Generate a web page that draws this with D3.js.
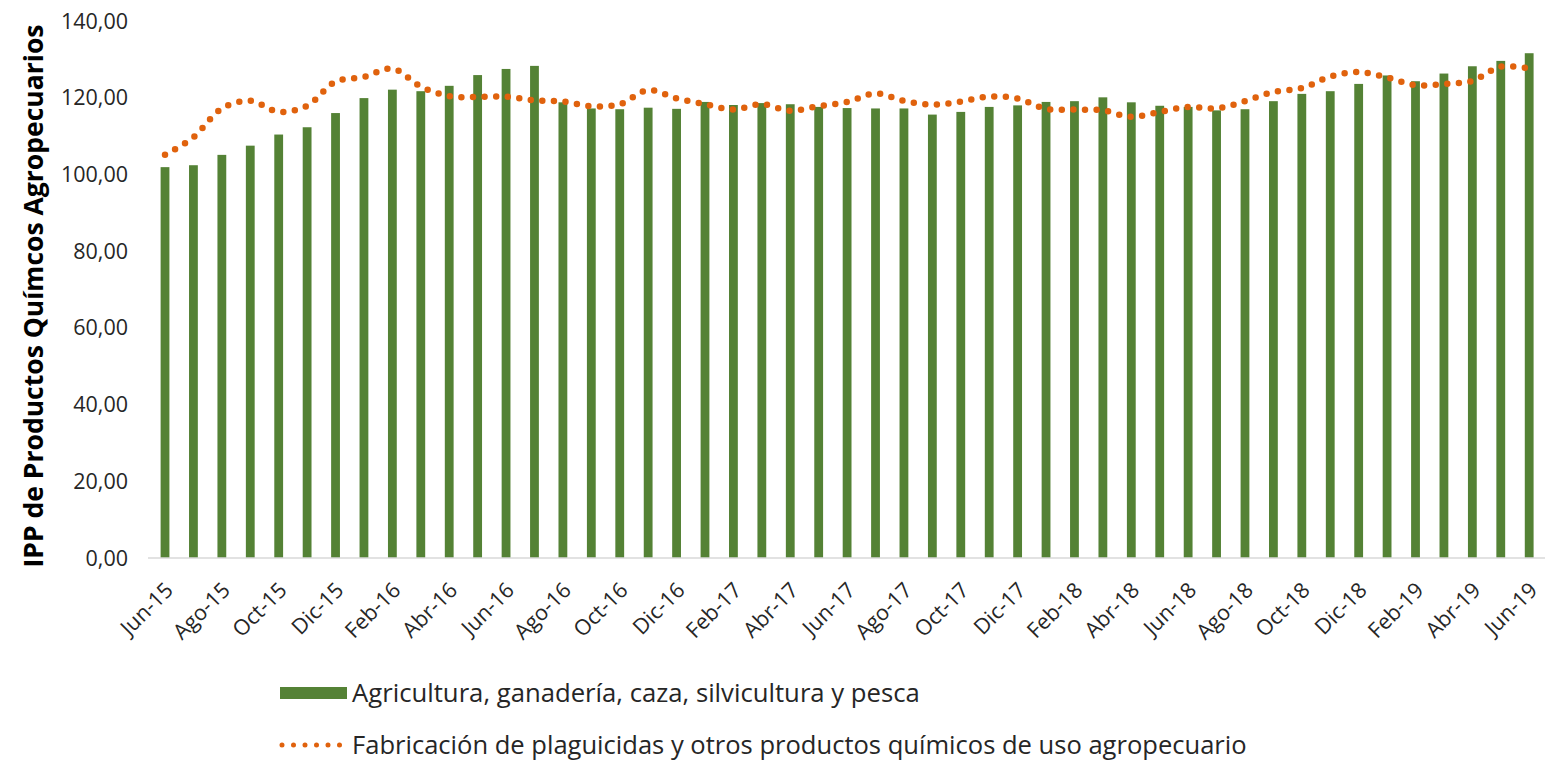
<!DOCTYPE html>
<html lang="es">
<head>
<meta charset="UTF-8">
<title>IPP de Productos Químicos Agropecuarios</title>
<script src="https://d3js.org/d3.v7.min.js"></script>
<style>
  body { margin: 0; background: #fff; }
  svg { display: block; font-family: "Century Gothic", "Open Sans", sans-serif; }
</style>
</head>
<body>
<div id="chart"></div>
<script>
// months, Jun-15 .. Jun-19
var months = ["Jun-15","Jul-15","Ago-15","Sep-15","Oct-15","Nov-15","Dic-15","Ene-16","Feb-16","Mar-16","Abr-16","May-16",
  "Jun-16","Jul-16","Ago-16","Sep-16","Oct-16","Nov-16","Dic-16","Ene-17","Feb-17","Mar-17","Abr-17","May-17",
  "Jun-17","Jul-17","Ago-17","Sep-17","Oct-17","Nov-17","Dic-17","Ene-18","Feb-18","Mar-18","Abr-18","May-18",
  "Jun-18","Jul-18","Ago-18","Sep-18","Oct-18","Nov-18","Dic-18","Ene-19","Feb-19","Mar-19","Abr-19","May-19","Jun-19"];

// Agricultura, ganadería, caza, silvicultura y pesca (bars)
var agricultura = [101.9,102.4,105.1,107.5,110.4,112.3,116.0,119.9,122.1,121.7,123.1,125.9,
  127.5,128.3,118.8,117.2,117.0,117.4,117.1,118.9,118.1,118.6,118.3,117.6,
  117.3,117.2,117.2,115.6,116.3,117.6,118.0,118.9,119.1,120.1,118.8,117.9,
  117.6,116.7,117.0,119.1,121.0,121.7,123.6,125.8,124.3,126.3,128.2,129.6,131.6];

// Fabricación de plaguicidas... (dotted line)
var plaguicidas = [105.1,109.7,117.2,119.2,116.3,117.9,124.2,125.4,127.6,122.9,120.4,120.2,
  120.3,119.3,119.0,117.8,118.3,122.0,119.8,118.3,116.9,118.3,116.6,117.8,
  118.9,121.1,119.2,118.2,119.0,120.3,119.8,117.1,116.9,116.7,115.0,116.3,
  117.6,117.2,119.1,121.5,122.5,125.5,126.7,125.3,123.3,123.6,124.4,128.1,127.6];

var yTicks = [0,20,40,60,80,100,120,140];
var seriesNames = ["Agricultura, ganadería, caza, silvicultura y pesca",
  "Fabricación de plaguicidas y otros productos químicos de uso agropecuario"];

var W = 1552, H = 761;
var green = "#548235", orange = "#E0620D";

var svg = d3.select("#chart").append("svg")
  .attr("width", W).attr("height", H);

var x = d3.scaleBand()
  .domain(months)
  .range([150.8, 1543.4])
  .paddingInner(0.69)
  .paddingOuter(0.345);

var y = d3.scaleLinear()
  .domain([0, 140])
  .range([558, 21]);

var fmt = function(v) { return d3.format(".2f")(v).replace(".", ","); };

// y tick labels (no axis line)
svg.append("g")
  .selectAll("text")
  .data(yTicks)
  .enter().append("text")
    .attr("x", 128)
    .attr("y", function(d) { return y(d); })
    .attr("dy", "0.35em")
    .attr("text-anchor", "end")
    .style("font-size", "21.5px")
    .style("fill", "#262626")
    .text(fmt);

// bars
svg.append("g")
  .selectAll("rect")
  .data(agricultura)
  .enter().append("rect")
    .attr("x", function(d, i) { return x(months[i]); })
    .attr("y", function(d) { return y(d); })
    .attr("width", x.bandwidth())
    .attr("height", function(d) { return y(0) - y(d); })
    .style("fill", green);

// baseline
svg.append("line")
  .attr("x1", 148).attr("x2", 1545)
  .attr("y1", y(0)).attr("y2", y(0))
  .style("stroke", "#d9d9d9")
  .style("stroke-width", 1.3);

// x labels every two months
var xLabels = months.filter(function(d, i) { return i % 2 == 0; });
svg.append("g")
  .selectAll("text")
  .data(xLabels)
  .enter().append("text")
    .attr("transform", function(d) {
      return "translate(" + (x(d) + x.bandwidth() / 2 + 9.5) + ",591.5) rotate(-45)";
    })
    .attr("text-anchor", "end")
    .style("font-size", "21.5px")
    .style("fill", "#262626")
    .text(function(d) { return d; });

// dotted smoothed line
var line = d3.line()
  .x(function(d, i) { return x(months[i]) + x.bandwidth() / 2; })
  .y(function(d) { return y(d); })
  .curve(d3.curveCatmullRom.alpha(0.5));

svg.append("path")
  .datum(plaguicidas)
  .attr("d", line)
  .style("fill", "none")
  .style("stroke", orange)
  .style("stroke-width", 6.5)
  .style("stroke-linecap", "round")
  .style("stroke-dasharray", "0 11.6");

// y axis title
var title = svg.append("text")
  .attr("transform", "translate(43,296) rotate(-90)")
  .attr("text-anchor", "middle")
  .style("font-size", "23px")
  .style("font-weight", "bold")
  .style("fill", "#000")
  .text("IPP de Productos Químcos Agropecuarios");

// shrink/grow font so text spans a target width
function fit(sel, target) {
  var fs = parseFloat(sel.style("font-size"));
  var len = sel.node().getComputedTextLength();
  sel.style("font-size", (fs * target / len).toFixed(2) + "px");
}
fit(title, 543);

// legend
var legend = svg.append("g");
legend.append("rect")
  .attr("x", 280).attr("y", 687)
  .attr("width", 67).attr("height", 12)
  .style("fill", green);
var l1 = legend.append("text")
  .attr("x", 352).attr("y", 693)
  .attr("dy", "0.35em")
  .style("font-size", "20px")
  .style("fill", "#262626")
  .text(seriesNames[0]);
fit(l1, 568);

legend.append("line")
  .attr("x1", 282).attr("x2", 346)
  .attr("y1", 745).attr("y2", 745)
  .style("stroke", orange)
  .style("stroke-width", 5)
  .style("stroke-linecap", "round")
  .style("stroke-dasharray", "0 11.5");
var l2 = legend.append("text")
  .attr("x", 352).attr("y", 745)
  .attr("dy", "0.35em")
  .style("font-size", "20px")
  .style("fill", "#262626")
  .text(seriesNames[1]);
fit(l2, 895);
</script>
</body>
</html>
